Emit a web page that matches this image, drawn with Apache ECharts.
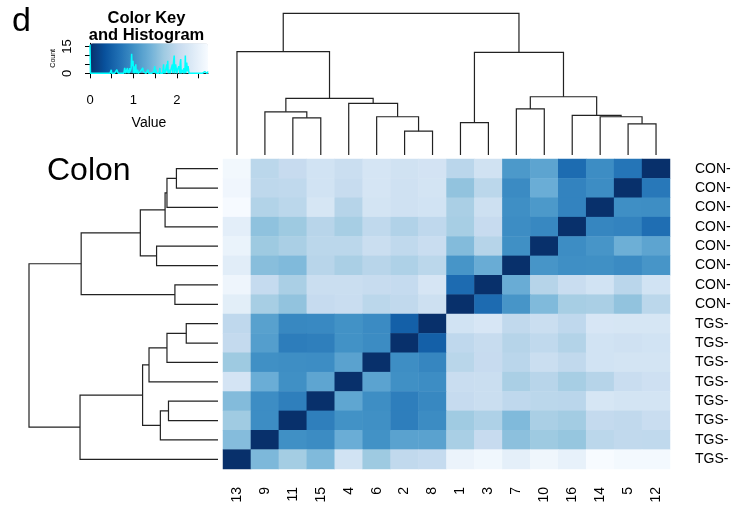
<!DOCTYPE html>
<html><head><meta charset="utf-8">
<script src="https://cdn.jsdelivr.net/npm/echarts@6/dist/echarts.min.js"></script>
<style>html,body{margin:0;padding:0;background:#fff}#c{width:736px;height:506px}</style>
</head><body><div id="c"></div>
<script>
// ---- data ----
const colIds = ["13","9","11","15","4","6","2","8","1","3","7","10","16","14","5","12"];
const rowIds = ["12","5","14","16","10","7","3","1","8","2","6","4","15","11","9","13"];
const rowLabels = ["CON-","CON-","CON-","CON-","CON-","CON-","CON-","CON-","TGS-","TGS-","TGS-","TGS-","TGS-","TGS-","TGS-","TGS-"];
const values = [
  [2.65,1.95,2.05,2.20,2.10,2.25,2.18,2.22,1.94,2.18,1.10,1.24,0.63,0.97,0.72,0],
  [2.62,1.97,1.99,2.20,2.06,2.25,2.17,2.23,1.62,1.95,0.95,1.35,0.87,0.97,0,0.75],
  [2.70,1.87,1.95,2.27,1.90,2.23,2.17,2.20,1.80,2.14,0.99,1.10,0.87,0,0.99,0.98],
  [2.45,1.60,1.70,1.92,1.78,1.99,1.86,1.98,1.78,2.05,0.97,0.92,0,0.90,0.87,0.65],
  [2.55,1.70,1.80,1.95,1.95,2.10,1.99,2.08,1.52,1.90,1.00,0,0.97,1.06,1.37,1.24],
  [2.42,1.55,1.50,1.92,1.80,1.92,1.84,1.95,1.06,1.34,0,1.06,0.99,1.00,0.95,1.06],
  [2.60,2.03,1.80,2.10,2.10,2.06,2.03,2.26,0.62,0,1.34,1.90,2.08,2.20,1.94,2.20],
  [2.44,1.78,1.62,2.04,2.08,1.95,2.00,2.14,0,0.62,1.06,1.50,1.78,1.80,1.62,1.95],
  [1.98,1.20,0.92,0.93,1.02,0.95,0.50,0,2.20,2.28,2.00,2.10,1.98,2.28,2.27,2.27],
  [2.02,1.17,0.80,0.82,1.02,0.96,0,0.50,1.98,2.06,1.90,1.99,1.88,2.20,2.17,2.20],
  [1.70,1.00,0.98,0.97,1.22,0,0.98,0.90,1.93,2.05,1.94,2.10,2.00,2.20,2.23,2.23],
  [2.24,1.35,1.00,1.25,0,1.23,1.00,0.97,2.08,2.10,1.80,1.92,1.78,1.90,2.08,2.15],
  [1.52,0.97,0.82,0,1.26,0.98,0.81,0.92,2.04,2.10,1.98,1.95,1.94,2.27,2.23,2.23],
  [1.72,0.97,0,0.82,1.02,1.00,0.81,0.96,1.72,1.84,1.50,1.80,1.74,2.02,2.00,2.08],
  [1.53,0,1.00,0.96,1.35,1.02,1.22,1.22,1.79,2.05,1.58,1.70,1.65,1.95,2.00,1.99],
  [0,1.48,1.75,1.50,2.20,1.70,2.00,2.03,2.56,2.63,2.46,2.61,2.50,2.72,2.67,2.67]
];
// hierarchical clustering merges: [left, right, height]; string = leaf id, number = earlier merge index
const treeMerges = [
  ["2","8",1.68],
  ["5","12",2.20],
  ["1","3",2.28],
  ["11","15",2.62],
  ["6",0,2.70],
  ["14",1,2.70],
  ["16",5,2.80],
  ["9",3,3.05],
  ["7","10",3.25],
  ["4",4,3.65],
  [7,9,3.99],
  [8,6,4.11],
  ["13",10,7.30],
  [2,11,7.24],
  [12,13,10.0]
];
const treeMax = 10;
const valueMax = 2.72;
const histBins = 255;
const keyTickValues = [0,0.5,1,1.5,2,2.5];
const keyLabelValues = [0,1,2];
const countTickValues = [0,5,10,15];
const countLabelValues = [0,15];
const blues = ['#08306B','#08519C','#2171B5','#4292C6','#6BAED6','#9ECAE1','#C6DBEF','#DEEBF7','#F7FBFF'];

// ---- derived ----
const heatData = [];
values.forEach((row, r) => row.forEach((v, c) => heatData.push([c, r, v])));

function dendroSegments(order) {
  const pos = {}; order.forEach((id, i) => pos[id] = i);
  const nodes = [];
  const get = ref => typeof ref === 'string' ? {p: pos[ref], h: 0} : nodes[ref];
  const segs = [];
  treeMerges.forEach(([a, b, h]) => {
    const A = get(a), B = get(b);
    segs.push([A.p, A.h, B.p, B.h, h]);
    nodes.push({p: (A.p + B.p) / 2, h: h});
  });
  return segs;
}
const colSegs = dendroSegments(colIds);
const rowSegs = dendroSegments(rowIds);

const binW = valueMax / histBins;
const counts = new Array(histBins).fill(0);
values.flat().forEach(v => { const k = Math.max(0, Math.min(histBins - 1, Math.floor(v / binW + 1e-9))); counts[k]++; });
const histPts = [];
counts.forEach((c, k) => { histPts.push([k * binW, c]); histPts.push([(k + 1) * binW, c]); });
const countMax = Math.max(...counts) / 0.95;

const FONT = "'Liberation Sans', Arial, Helvetica, sans-serif";
const LINE = '#222';

const chart = echarts.init(document.getElementById('c'));
chart.setOption({
  animation: false,
  backgroundColor: '#fff',
  textStyle: {fontFamily: FONT},
  graphic: [
    {type: 'text', x: 12, y: 22, style: {text: 'd', font: '34px ' + FONT, fill: '#000', verticalAlign: 'middle', textVerticalAlign: 'middle'}},
    {type: 'text', x: 47, y: 171, style: {text: 'Colon', font: '32px ' + FONT, fill: '#000', verticalAlign: 'middle', textVerticalAlign: 'middle'}},
    {type: 'text', x: 146.5, y: 27, style: {text: 'Color Key\nand Histogram', font: 'bold 16.5px ' + FONT, lineHeight: 17.7, fill: '#000', align: 'center', textAlign: 'center', verticalAlign: 'middle', textVerticalAlign: 'middle'}}
  ],
  grid: [
    {left: 223, top: 159, width: 447, height: 310},
    {left: 223, top: 13.3, width: 447, height: 141.7},
    {left: 29, top: 159, width: 189, height: 310},
    {left: 90, top: 43.3, width: 118, height: 30}
  ],
  xAxis: [
    {type: 'category', gridIndex: 0, data: colIds, axisLine: {show: false}, axisTick: {show: false},
     axisLabel: {rotate: 90, fontSize: 14, color: '#000', margin: 18, padding: [0, 0, 10, 0], interval: 0}},
    {type: 'value', gridIndex: 1, min: -0.5, max: 15.5, show: false},
    {type: 'value', gridIndex: 2, min: 0, max: treeMax, inverse: true, show: false},
    {type: 'value', gridIndex: 3, min: 0, max: valueMax, splitLine: {show: false},
     axisLine: {show: true, lineStyle: {color: '#000', width: 1}},
     axisTick: {show: true, length: 5, customValues: keyTickValues, lineStyle: {color: '#000'}},
     axisLabel: {customValues: keyLabelValues, fontSize: 13, color: '#000', margin: 21},
     name: 'Value', nameLocation: 'middle', nameGap: 43, nameTextStyle: {fontSize: 14, color: '#000'}}
  ],
  yAxis: [
    {type: 'category', gridIndex: 0, data: rowIds, inverse: true, position: 'right', axisLine: {show: false}, axisTick: {show: false},
     axisLabel: {fontSize: 14, color: '#000', margin: 25, interval: 0, formatter: (v, i) => rowLabels[i]}},
    {type: 'value', gridIndex: 1, min: 0, max: treeMax, show: false},
    {type: 'value', gridIndex: 2, min: -0.5, max: 15.5, inverse: true, show: false},
    {type: 'value', gridIndex: 3, min: 0, max: countMax, splitLine: {show: false},
     axisLine: {show: true, lineStyle: {color: '#000', width: 1}},
     axisTick: {show: true, length: 5, customValues: countTickValues, lineStyle: {color: '#000'}},
     axisLabel: {customValues: countLabelValues, rotate: 90, fontSize: 13, color: '#000', margin: 16},
     name: 'Count', nameLocation: 'middle', nameRotate: 90, nameGap: 33, nameTextStyle: {fontSize: 7, color: '#000'}}
  ],
  visualMap: {
    type: 'continuous', seriesIndex: 0, min: 0, max: valueMax, orient: 'horizontal',
    left: 90, top: 43.3, itemWidth: 30, itemHeight: 118, padding: 0, calculable: false, hoverLink: false,
    inRange: {color: blues}, text: null, show: true
  },
  series: [
    {type: 'heatmap', xAxisIndex: 0, yAxisIndex: 0, data: heatData, emphasis: {disabled: true}, itemStyle: {borderWidth: 0}},
    {type: 'custom', xAxisIndex: 1, yAxisIndex: 1, data: colSegs, z: 5, silent: true,
     renderItem: (params, api) => {
       const pa = api.value(0), ha = api.value(1), pb = api.value(2), hb = api.value(3), h = api.value(4);
       const pts = [[pa, ha], [pa, h], [pb, h], [pb, hb]].map(p => api.coord(p));
       return {type: 'polyline', shape: {points: pts}, style: {stroke: LINE, lineWidth: 1.2, fill: null}};
     }},
    {type: 'custom', xAxisIndex: 2, yAxisIndex: 2, data: rowSegs, z: 5, silent: true,
     renderItem: (params, api) => {
       const pa = api.value(0), ha = api.value(1), pb = api.value(2), hb = api.value(3), h = api.value(4);
       const pts = [[ha, pa], [h, pa], [h, pb], [hb, pb]].map(p => api.coord(p));
       return {type: 'polyline', shape: {points: pts}, style: {stroke: LINE, lineWidth: 1.2, fill: null}};
     }},
    {type: 'line', xAxisIndex: 3, yAxisIndex: 3, data: histPts, showSymbol: false, symbol: 'none', clip: false, z: 10, silent: true,
     lineStyle: {color: '#00FFFF', width: 1.5}}
  ]
});
</script></body></html>
